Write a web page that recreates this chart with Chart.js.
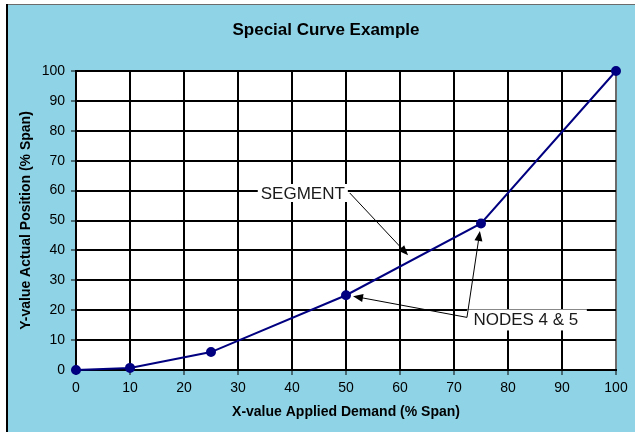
<!DOCTYPE html>
<html>
<head>
<meta charset="utf-8">
<script src="https://cdn.jsdelivr.net/npm/chart.js@4/dist/chart.umd.min.js"></script>
<style>
    html, body { margin: 0; padding: 0; background: #fff; }
    #wrap { width: 635px; height: 432px; position: relative; }
</style>
</head>
<body>
<div id="wrap"><canvas id="curveChart" width="635" height="432"></canvas></div>
<script>
// curve nodes
var xValues = [0, 10, 25, 50, 75, 100];
var yValues = [0, 0.7, 6, 25, 49, 100];
var axisMin = 0, axisMax = 100, axisStep = 10;

// callouts, in data units
var segmentText = 'SEGMENT';
var segmentAt = [42, 59.2];
var segmentArrow = [[50.7, 59.2], [61.5, 38.4]];
var nodesText = 'NODES 4 & 5';
var nodesAt = [73.6, 16.9];
var nodesElbow = [72.4, 17.6];
var nodesTips = [[51.3, 24.7], [74.8, 46.5]];

var FONT = '"Liberation Sans", Arial, sans-serif';
var BG = '#8fd3e6';

var frame = {
    id: 'frame',
    beforeDraw: function (chart) {
        var c = chart.ctx, a = chart.chartArea;
        c.save();
        c.fillStyle = '#fff';
        c.fillRect(0, 0, chart.width, chart.height);
        c.fillStyle = BG;
        c.fillRect(7, 5, chart.width - 7, chart.height - 5);
        c.fillStyle = '#6b6b6b';
        c.fillRect(6, 4, chart.width - 6, 1);
        c.fillStyle = '#000';
        c.fillRect(6, 4, 2, chart.height - 4);
        c.fillStyle = '#fff';
        c.fillRect(a.left, a.top, a.right - a.left, a.bottom - a.top);
        c.restore();
    }
};

function arrow(c, x1, y1, x2, y2) {
    var ang = Math.atan2(y2 - y1, x2 - x1), len = 10, w = 4;
    c.beginPath();
    c.moveTo(x1, y1);
    c.lineTo(x2 - Math.cos(ang) * len * 0.8, y2 - Math.sin(ang) * len * 0.8);
    c.stroke();
    c.beginPath();
    c.moveTo(x2, y2);
    c.lineTo(x2 - Math.cos(ang) * len - Math.sin(ang) * w, y2 - Math.sin(ang) * len + Math.cos(ang) * w);
    c.lineTo(x2 - Math.cos(ang) * len + Math.sin(ang) * w, y2 - Math.sin(ang) * len - Math.cos(ang) * w);
    c.closePath();
    c.fill();
}

var callouts = {
    id: 'callouts',
    afterDatasetsDraw: function (chart) {
        var c = chart.ctx, sx = chart.scales.x, sy = chart.scales.y;
        function px(p) { return [sx.getPixelForValue(p[0]), sy.getPixelForValue(p[1])]; }
        c.save();
        c.font = '17px ' + FONT;
        c.textBaseline = 'middle';
        c.strokeStyle = '#000';
        c.fillStyle = '#000';
        c.lineWidth = 1;

        // SEGMENT
        var s = px(segmentAt), sw = c.measureText(segmentText).width;
        c.fillStyle = '#fff';
        c.fillRect(s[0] - sw / 2 - 3, s[1] - 9, sw + 6, 18);
        c.fillStyle = '#1a1a1a';
        c.textAlign = 'center';
        c.fillText(segmentText, s[0], s[1] + 1);
        c.fillStyle = '#000';
        var a0 = px(segmentArrow[0]), a1 = px(segmentArrow[1]);
        arrow(c, a0[0], a0[1], a1[0], a1[1]);

        // NODES 4 & 5
        var n = px(nodesAt), nw = c.measureText(nodesText).width;
        var e = px(nodesElbow);
        c.fillStyle = '#fff';
        c.fillRect(e[0], n[1] - 10, nw + 15, 21);
        c.fillStyle = '#1a1a1a';
        c.textAlign = 'left';
        c.fillText(nodesText, n[0], n[1] + 1);
        c.fillStyle = '#000';
        nodesTips.forEach(function (t) {
            var p = px(t);
            arrow(c, e[0], e[1], p[0], p[1]);
        });
        c.restore();
    }
};

var ctx = document.getElementById('curveChart').getContext('2d');
var myChart = new Chart(ctx, {
    type: 'line',
    data: {
        datasets: [{
            label: 'Special Curve',
            data: xValues.map(function (x, i) { return { x: x, y: yValues[i] }; }),
            borderColor: '#000080',
            backgroundColor: '#000080',
            borderWidth: 2,
            pointRadius: 4,
            pointHoverRadius: 4,
            tension: 0,
            clip: false
        }]
    },
    options: {
        responsive: false,
        animation: false,
        devicePixelRatio: 1,
        layout: { padding: { left: 17, right: 0, top: 0, bottom: 0 } },
        plugins: {
            legend: { display: false },
            tooltip: { enabled: false },
            title: {
                display: true,
                text: 'Special Curve Example',
                color: '#000',
                font: { family: FONT, size: 17, weight: 'bold' },
                padding: { top: 20, bottom: 30.6 }
            }
        },
        scales: {
            x: {
                type: 'linear',
                min: axisMin,
                max: axisMax,
                ticks: { stepSize: axisStep, color: '#000', padding: 5, font: { family: FONT, size: 14 } },
                grid: {
                    color: function (c) { return c.tick && c.tick.value === axisMax ? '#6b6b6b' : '#000'; },
                    lineWidth: 2,
                    tickLength: 5,
                    tickColor: '#000',
                    tickWidth: 1
                },
                border: { display: true, color: '#000', width: 2 },
                title: {
                    display: true,
                    text: 'X-value Applied Demand (% Span)',
                    color: '#000',
                    font: { family: FONT, size: 14, weight: 'bold' },
                    padding: { top: 0, bottom: 11 }
                },
                afterFit: function (scale) {
                    scale.height = 62;
                    scale.paddingRight = 19;
                }
            },
            y: {
                min: axisMin,
                max: axisMax,
                ticks: { stepSize: axisStep, color: '#000', padding: 6, font: { family: FONT, size: 14 } },
                grid: {
                    color: '#000',
                    lineWidth: 2,
                    tickLength: 5,
                    tickColor: '#000',
                    tickWidth: 1
                },
                border: { display: true, color: '#000', width: 2 },
                title: {
                    display: true,
                    text: 'Y-value Actual Position (% Span)',
                    color: '#000',
                    font: { family: FONT, size: 14, weight: 'bold' },
                    padding: { top: 1, bottom: 0 }
                },
                afterFit: function (scale) {
                    scale.width = 59;
                }
            }
        }
    },
    plugins: [frame, callouts]
});
</script>
</body>
</html>
